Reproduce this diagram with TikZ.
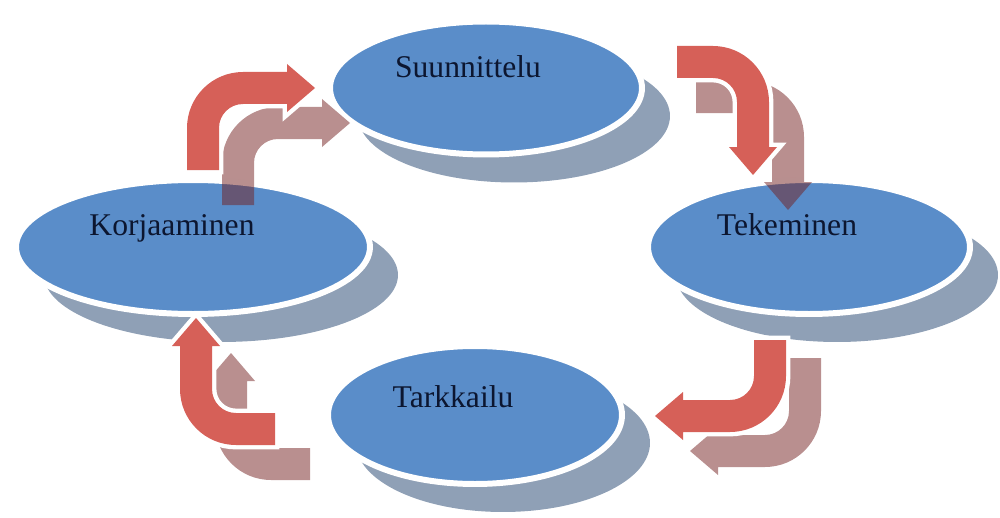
\documentclass[tikz,border=0pt]{standalone}
\usepackage{fontspec}
\setmainfont{Liberation Serif}
\usepackage{tikz}
\usetikzlibrary{shapes.geometric, positioning, calc}
\definecolor{stageblue}{RGB}{90,141,201}
\definecolor{stageshadow}{RGB}{143,160,182}
\definecolor{arrowred}{RGB}{214,96,88}
\definecolor{arrowshadow}{RGB}{115,32,32}
\definecolor{stageink}{RGB}{12,22,48}
\tikzset{
  stage/.style={
    ellipse, draw=white, line width=3.4pt, fill=stageblue, inner sep=0pt
  },
  stageshade/.style={
    ellipse, fill=stageshadow, inner sep=0pt
  },
  stagelabel/.style={
    anchor=base, inner sep=0pt, text=stageink,
    font=\fontsize{18}{20}\selectfont
  },
  redarrow/.style={
    fill=arrowred, preaction={draw=white, line width=5pt}
  },
  arrowshade/.style={
    fill=arrowshadow, fill opacity=0.5
  },
  pics/bentarrow/.style n args={3}{code={
    \path[#3] (-16,0) -- (-16,-#1)
      .. controls (-16,-#1-30.9) and (9.1,-#1-56) .. (40,-#1-56)
      -- (40+#2,-#1-56) -- (40+#2,-#1-64) -- (68+#2,-#1-40)
      -- (40+#2,-#1-16) -- (40+#2,-#1-24) -- (40,-#1-24)
      .. controls (26.7,-#1-24) and (16,-#1-13.3) .. (16,-#1)
      -- (16,0) -- cycle;
  }},
}

\begin{document}
\begin{tikzpicture}[x=0.02cm, y=-0.02cm]
  \useasboundingbox (0,0) rectangle (1000,517);
  % shadows of the stages
  \node[stageshade, minimum width=6.24cm, minimum height=2.66cm] (suunshade) at (514,116) {};
  \node[stageshade, minimum width=7.08cm, minimum height=2.68cm] (korjshade) at (221,275) {};
  \node[stageshade, minimum width=6.44cm, minimum height=2.68cm] (tekeshade) at (837,275) {};
  \node[stageshade, minimum width=5.88cm, minimum height=2.76cm] (tarkshade) at (503,443) {};
  % stages
  \node[stage, minimum width=6.24cm, minimum height=2.66cm] (suun) at (486,88) {};
  \node[stage, minimum width=7.08cm, minimum height=2.68cm] (korj) at (193,247) {};
  \node[stage, minimum width=6.44cm, minimum height=2.68cm] (teke) at (809,247) {};
  \node[stage, minimum width=5.88cm, minimum height=2.76cm] (tark) at (475,415) {};
  % labels
  \node[stagelabel] (suuntext) at ([shift={(-18,-10)}]suun.center) {Suunnittelu};
  \node[stagelabel] (korjtext) at ([shift={(-21,-12)}]korj.center) {Korjaaminen};
  \node[stagelabel] (teketext) at ([shift={(-22,-12)}]teke.center) {Tekeminen};
  \node[stagelabel] (tarktext) at ([shift={(-22,-8)}]tark.center) {Tarkkailu};
  % where the arrows leave
  \coordinate (korjout) at ([shift={(10,-77)}]korj.center);
  \coordinate (suunout) at ([shift={(191,-26)}]suun.center);
  \coordinate (tekeout) at ([shift={(-39,93)}]teke.center);
  \coordinate (tarkout) at ([shift={(-200,14)}]tark.center);
  % arrow shadows
  \pic[shift={(korjout)}, shift={(35,35)}] {bentarrow={42}{44}{arrowshade}};
  \pic[shift={(suunout)}, shift={(19,35)}, rotate=-90] {bentarrow={52}{45}{arrowshade}};
  \pic[shift={(tekeout)}, shift={(35,18)}, rotate=180] {bentarrow={53}{47}{arrowshade}};
  \pic[shift={(tarkout)}, shift={(35,35)}, rotate=90] {bentarrow={39}{43}{arrowshade}};
  % arrows
  \pic[shift={(korjout)}] {bentarrow={42}{44}{redarrow}};
  \pic[shift={(suunout)}, rotate=-90] {bentarrow={36}{45}{redarrow}};
  \pic[shift={(tekeout)}, rotate=180] {bentarrow={36}{47}{redarrow}};
  \pic[shift={(tarkout)}, rotate=90] {bentarrow={39}{43}{redarrow}};
\end{tikzpicture}
\end{document}
